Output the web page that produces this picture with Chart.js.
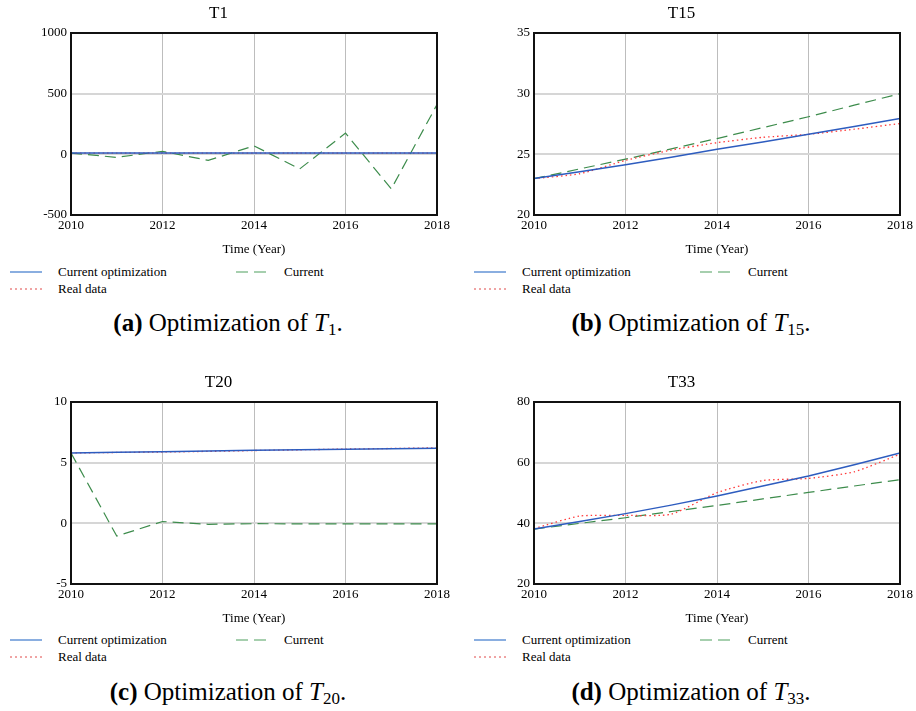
<!DOCTYPE html>
<html>
<head>
<meta charset="utf-8">
<script src="https://cdn.jsdelivr.net/npm/chart.js@4.4.0/dist/chart.umd.min.js"></script>
<style>
  html, body { margin: 0; padding: 0; background: #fff; }
  body { width: 916px; height: 711px; position: relative; overflow: hidden; font-family: "Liberation Serif", serif; }
  canvas { position: absolute; }
  .leg { position: absolute; font-size: 13px; line-height: 16px; color: #000; white-space: nowrap; }
  .sample { position: absolute; }
  .caption { position: absolute; width: 300px; text-align: center; font-size: 25px; line-height: 30px; color: #000; white-space: nowrap; }
  .caption sub { font-size: 17px; vertical-align: -4px; line-height: 0; font-style: normal; }
</style>
</head>
<body>
<canvas id="chartA" width="455" height="262" style="left:0px;top:0px"></canvas>
<canvas id="chartB" width="455" height="262" style="left:463px;top:0px"></canvas>
<canvas id="chartC" width="455" height="262" style="left:0px;top:369px"></canvas>
<canvas id="chartD" width="455" height="262" style="left:463px;top:369px"></canvas>

<div class="caption" style="left:78px;top:308px"><b>(a)</b> Optimization of <i>T</i><sub>1</sub>.</div>
<div class="caption" style="left:541px;top:308px"><b>(b)</b> Optimization of <i>T</i><sub>15</sub>.</div>
<div class="caption" style="left:78px;top:677px"><b>(c)</b> Optimization of <i>T</i><sub>20</sub>.</div>
<div class="caption" style="left:541px;top:677px"><b>(d)</b> Optimization of <i>T</i><sub>33</sub>.</div>

<script>
const years = [2010, 2011, 2012, 2013, 2014, 2015, 2016, 2017, 2018];
const seriesNames = ["Current optimization", "Current", "Real data"];

// T1
const t1Optimization = [10, 10, 10, 10, 10, 10, 10, 10, 10];
const t1Current = [10, -25, 25, -50, 70, -120, 175, -285, 410];
const t1Real = [10, 10, 10, 10, 10, 10, 10, 10, 10];

// T15
const t15Optimization = [23.0, 23.56, 24.14, 24.76, 25.41, 26.02, 26.65, 27.3, 27.95];
const t15Current = [23.0, 23.8, 24.6, 25.45, 26.3, 27.2, 28.1, 29.05, 30.0];
const t15Real = [23.0, 23.4, 24.5, 25.35, 25.96, 26.4, 26.65, 27.07, 27.54];

// T20
const t20Optimization = [5.8, 5.85, 5.9, 5.96, 6.02, 6.07, 6.11, 6.15, 6.19];
const t20Current = [5.8, -1.05, 0.15, -0.08, -0.03, -0.04, -0.04, -0.04, -0.05];
const t20Real = [5.8, 5.84, 5.88, 5.93, 6.0, 6.06, 6.12, 6.17, 6.22];

// T33
const t33Optimization = [38.1, 40.6, 43.2, 46.0, 49.0, 52.3, 55.6, 59.3, 63.2];
const t33Current = [38.1, 40.0, 41.85, 43.9, 45.9, 48.05, 50.2, 52.3, 54.4];
const t33Real = [38.3, 42.4, 42.6, 43.0, 50.1, 54.1, 54.8, 57.0, 62.8];

const blue = "#2d5cbf";
const green = "#3d8c4c";
const red = "#ff3a3a";
const font = "'Liberation Serif', 'Times New Roman', serif";

// black box around the plot area
const framePlugin = {
    id: "frame",
    afterDraw(chart) {
        const { ctx, chartArea } = chart;
        ctx.save();
        ctx.strokeStyle = "#111";
        ctx.lineWidth = 2;
        ctx.strokeRect(chartArea.left, chartArea.top, chartArea.right - chartArea.left, chartArea.bottom - chartArea.top);
        ctx.restore();
    }
};

function toPoints(values) {
    return values.map((v, i) => ({ x: years[i], y: v }));
}

function makeChart(canvasId, title, optimization, current, real, yMin, yMax, yStep) {
    const ctx = document.getElementById(canvasId).getContext("2d");
    return new Chart(ctx, {
        type: "line",
        data: {
            datasets: [
                { label: seriesNames[0], data: toPoints(optimization), borderColor: blue, borderWidth: 1.5, pointRadius: 0, tension: 0 },
                { label: seriesNames[2], data: toPoints(real), borderColor: red, borderWidth: 1.3, borderDash: [1.5, 3], pointRadius: 0, tension: 0.2 },
                { label: seriesNames[1], data: toPoints(current), borderColor: green, borderWidth: 1.2, borderDash: [11, 6], pointRadius: 0, tension: 0 }
            ]
        },
        options: {
            responsive: false,
            animation: false,
            layout: { padding: { left: 0, right: 18, top: 0, bottom: 0 } },
            plugins: {
                legend: { display: false },
                tooltip: { enabled: false },
                title: {
                    display: true,
                    text: title,
                    color: "#000",
                    font: { family: font, size: 17, weight: "normal" },
                    padding: { top: 3, bottom: 9.6 }
                }
            },
            scales: {
                x: {
                    type: "linear",
                    min: 2010,
                    max: 2018,
                    border: { display: false },
                    grid: {
                        drawTicks: false,
                        color: (c) => (c.tick && (c.tick.value === 2010 || c.tick.value === 2018)) ? "rgba(0,0,0,0)" : "#bdbdbd",
                        lineWidth: 1
                    },
                    ticks: {
                        stepSize: 2,
                        padding: 3,
                        color: "#000",
                        font: { family: font, size: 13 },
                        maxRotation: 0,
                        callback: (v) => String(v)
                    },
                    title: {
                        display: true,
                        text: "Time (Year)",
                        color: "#000",
                        font: { family: font, size: 13 },
                        padding: { top: 0, bottom: 5 }
                    },
                    afterFit: (scale) => { scale.height = 47; }
                },
                y: {
                    min: yMin,
                    max: yMax,
                    border: { display: false },
                    grid: {
                        drawTicks: false,
                        color: "#d6d6d6",
                        lineWidth: 2
                    },
                    ticks: {
                        stepSize: yStep,
                        padding: 4,
                        color: "#000",
                        font: { family: font, size: 13 },
                        callback: (v) => String(v)
                    },
                    afterFit: (scale) => { scale.width = 71; }
                }
            }
        },
        plugins: [framePlugin]
    });
}

makeChart("chartA", "T1", t1Optimization, t1Current, t1Real, -500, 1000, 500);
makeChart("chartB", "T15", t15Optimization, t15Current, t15Real, 20, 35, 5);
makeChart("chartC", "T20", t20Optimization, t20Current, t20Real, -5, 10, 5);
makeChart("chartD", "T33", t33Optimization, t33Current, t33Real, 20, 80, 20);

// legends under each panel, two columns like the original
function addLegend(left, top) {
    const body = document.body;
    const svgNS = "http://www.w3.org/2000/svg";

    function sample(x, y, color, width, dash) {
        const svg = document.createElementNS(svgNS, "svg");
        svg.setAttribute("width", "34");
        svg.setAttribute("height", "6");
        svg.setAttribute("class", "sample");
        svg.style.left = x + "px";
        svg.style.top = (y - 3) + "px";
        const line = document.createElementNS(svgNS, "line");
        line.setAttribute("x1", "1");
        line.setAttribute("x2", "33");
        line.setAttribute("y1", "3");
        line.setAttribute("y2", "3");
        line.setAttribute("stroke", color);
        line.setAttribute("stroke-width", width);
        if (dash) line.setAttribute("stroke-dasharray", dash);
        svg.appendChild(line);
        body.appendChild(svg);
    }

    function label(x, y, text) {
        const div = document.createElement("div");
        div.className = "leg";
        div.style.left = x + "px";
        div.style.top = (y - 8) + "px";
        div.textContent = text;
        body.appendChild(div);
    }

    sample(left + 9, top, "#8aaee0", 2, null);
    label(left + 58, top, seriesNames[0]);
    sample(left + 9, top + 17, "#e04848", 1, "2,3");
    label(left + 58, top + 17, seriesNames[2]);
    sample(left + 235, top, "#a6cfae", 2, "12,6");
    label(left + 284, top, seriesNames[1]);
}

addLegend(0, 272);
addLegend(464, 272);
addLegend(0, 640);
addLegend(464, 640);
</script>
</body>
</html>
